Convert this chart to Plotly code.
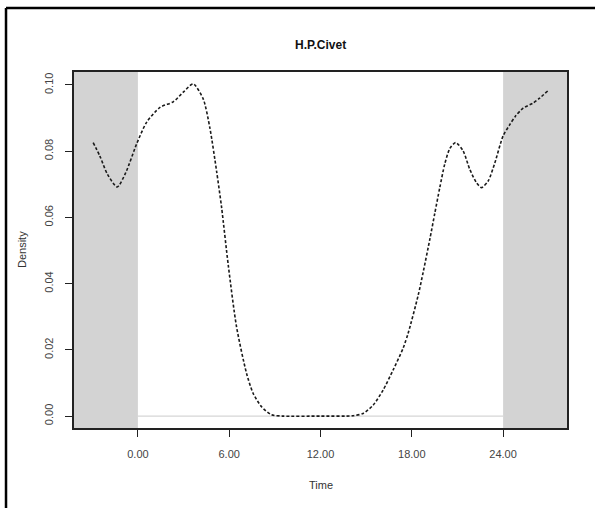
import plotly.graph_objects as go

# Kernel density of H.P.Civet activity, plotted over an extended day (-3 h to 27 h)
hours = [-2.94, -2.5, -2.0, -1.36, -0.8, -0.09, 0.57, 1.45, 2.32, 2.98, 3.63,
         4.29, 4.73, 5.17, 5.5, 5.94, 6.48, 7.14, 7.57, 8.13, 8.78, 9.5,
         12.0, 14.15, 14.8, 15.46, 16.12, 16.77, 17.43, 17.76, 18.42,
         18.75, 19.19, 19.51, 19.84, 20.17, 20.5, 20.89, 21.37, 21.81, 22.25,
         22.58, 23.02, 23.46, 24.0, 24.44, 24.8, 25.32, 25.97, 26.4, 26.96]
density = [0.0826, 0.0785, 0.0730, 0.0692, 0.0735, 0.0821, 0.0887, 0.0932,
           0.0949, 0.0978, 0.1003, 0.0958, 0.0870, 0.0740, 0.0630, 0.0455,
           0.0270, 0.0129, 0.0069, 0.0028, 0.0004, 0.0000, 0.0000,
           0.0001, 0.0008, 0.0033, 0.0079, 0.0139, 0.0205, 0.0250, 0.0365,
           0.0435, 0.0535, 0.0612, 0.0690, 0.0762, 0.0808, 0.0826, 0.0801,
           0.0745, 0.0705, 0.0690, 0.0710, 0.0765, 0.0846, 0.0880, 0.0905,
           0.0930, 0.0945, 0.0960, 0.0983]

x_ticks = [0, 6, 12, 18, 24]
x_tick_text = ["0.00", "6.00", "12.00", "18.00", "24.00"]
y_ticks = [0.00, 0.02, 0.04, 0.06, 0.08, 0.10]
y_tick_text = ["0.00", "0.02", "0.04", "0.06", "0.08", "0.10"]

x_range = [-4.2, 28.2]
y_range = [-0.0036, 0.1039]
day_start, day_end = 0, 24

fig = go.Figure()

# Zero baseline across the 24 h day
fig.add_trace(go.Scatter(
    x=[day_start, day_end], y=[0, 0], mode="lines",
    line=dict(color="#d6d6d6", width=1.2), hoverinfo="skip", showlegend=False))

fig.add_trace(go.Scatter(
    x=hours, y=density, mode="lines",
    line=dict(color="#1a1a1a", width=1.6, dash="3px,2px", shape="spline", smoothing=0.7),
    showlegend=False))

shapes = [
    # shaded regions outside the 0-24 h day
    dict(type="rect", xref="x", yref="paper", x0=x_range[0], x1=day_start, y0=0, y1=1,
         fillcolor="#d3d3d3", line=dict(width=0), layer="below"),
    dict(type="rect", xref="x", yref="paper", x0=day_end, x1=x_range[1], y0=0, y1=1,
         fillcolor="#d3d3d3", line=dict(width=0), layer="below"),
    # outer figure border
    dict(type="line", xref="paper", yref="paper", x0=-0.1379, x1=-0.1379, y0=1.1798, y1=-0.25,
         line=dict(color="black", width=2.5)),
    dict(type="line", xref="paper", yref="paper", x0=-0.1379, x1=1.08, y0=1.1798, y1=1.1798,
         line=dict(color="black", width=2.5)),
]

font_family = "Liberation Sans, Arial, sans-serif"

fig.update_layout(
    width=595, height=508,
    margin=dict(l=74, r=28, t=72, b=80),
    paper_bgcolor="white", plot_bgcolor="white",
    shapes=shapes,
    font=dict(family=font_family, size=11, color="#333333"),
    annotations=[
        dict(text="<b>H.P.Civet</b>", xref="paper", yref="paper", x=0.5, y=1.0 + 27 / 356,
             showarrow=False, font=dict(size=12, color="#111111"), xanchor="center", yanchor="middle"),
        dict(text="Time", xref="paper", yref="paper", x=0.5, y=-57 / 356,
             showarrow=False, font=dict(size=11, color="#333333"), xanchor="center", yanchor="middle"),
        dict(text="Density", xref="paper", yref="paper", x=-52 / 493, y=0.5, textangle=-90,
             showarrow=False, font=dict(size=11, color="#333333"), xanchor="center", yanchor="middle"),
    ],
    xaxis=dict(
        range=x_range, tickvals=x_ticks, ticktext=x_tick_text,
        showgrid=False, zeroline=False,
        showline=True, mirror=True, linecolor="#222222", linewidth=2,
        ticks="outside", ticklen=7, tickcolor="#222222", tickwidth=1,
        ticklabelstandoff=8, tickfont=dict(size=11, color="#444444"),
    ),
    yaxis=dict(
        range=y_range, tickvals=y_ticks, ticktext=y_tick_text,
        showgrid=False, zeroline=False,
        showline=True, mirror=True, linecolor="#222222", linewidth=2,
        ticks="outside", ticklen=7, tickcolor="#222222", tickwidth=1,
        tickangle=-90, ticklabelstandoff=8, tickfont=dict(size=11, color="#444444"),
    ),
)

fig.write_html("out.html")
